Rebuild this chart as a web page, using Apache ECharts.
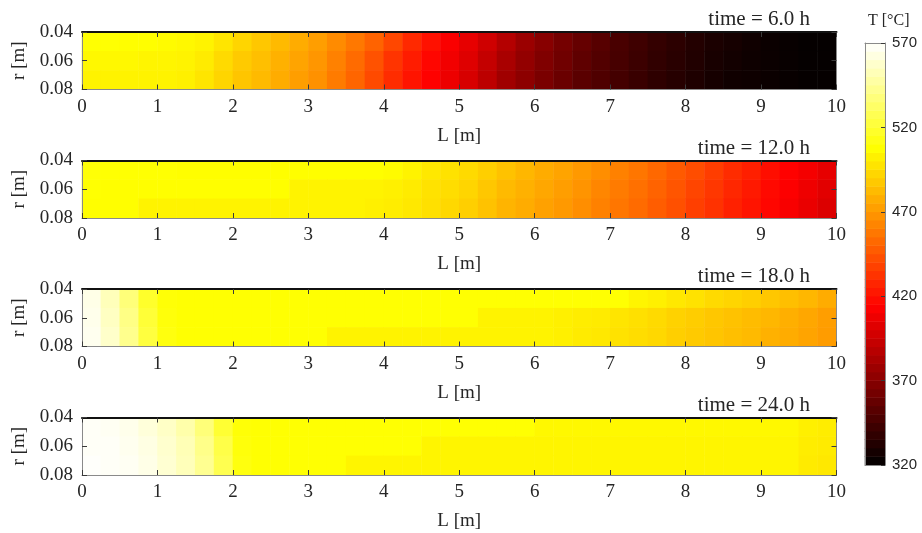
<!DOCTYPE html>
<html><head><meta charset="utf-8">
<script src="https://cdn.jsdelivr.net/npm/echarts@6/dist/echarts.min.js"></script>
<style>html,body{margin:0;padding:0;background:#fff}#c{width:922px;height:533px}</style>
</head><body><div id="c"></div>
<script>
// ---- data ----
const L_centers = [0.125,0.375,0.625,0.875,1.125,1.375,1.625,1.875,2.125,2.375,2.625,2.875,3.125,3.375,3.625,3.875,4.125,4.375,4.625,4.875,5.125,5.375,5.625,5.875,6.125,6.375,6.625,6.875,7.125,7.375,7.625,7.875,8.125,8.375,8.625,8.875,9.125,9.375,9.625,9.875];
const r_rows = ['0.040-0.053','0.053-0.067','0.067-0.080'];
const L_ticks = [0,1,2,3,4,5,6,7,8,9,10];
const r_ticks = ['0.04','0.06','0.08'];
const times = ['time = 6.0 h','time = 12.0 h','time = 18.0 h','time = 24.0 h'];

const T6_top = [508,508,507,507,506,505,503,498,492,487,482,477,472,465,458,450,440,429,420,412,405,396,386,377,370,363,357,352,347,343,339,336,333,330,328,326,324,323,322,322];
const T6_mid = [505,505,505,504,504,503,500,494,488,484,479,474,469,461,453,444,433,424,416,409,402,392,382,374,367,361,355,350,346,342,338,335,332,329,327,325,324,323,322,322];
const T6_bot = [503,503,503,503,503,502,498,492,486,482,477,472,467,459,451,441,430,421,414,407,399,389,379,372,365,359,353,349,345,341,337,334,331,328,326,325,324,323,322,322];

const T12_top = [509,508,508,508,508,507,507,507,507,507,507,507,507,507,507,507,506,503,499,497,494,490,485,481,477,474,470,466,461,457,452,447,442,436,430,425,419,414,410,405];
const T12_mid = [508,507,507,507,507,507,507,507,507,507,507,503,503,503,503,503,502,500,497,495,492,487,482,479,475,472,468,463,459,455,450,445,439,434,428,423,417,413,408,403];
const T12_bot = [507,507,507,503,503,503,503,503,503,503,503,503,503,503,503,502,501,499,496,493,490,485,480,477,473,470,466,461,457,453,448,443,437,432,426,421,416,411,406,401];

const T18_top = [564,553,537,518,509,508,508,508,508,508,508,508,508,508,508,508,508,508,508,508,508,508,508,508,508,508,508,508,508,504,502,499,497,494,492,490,487,484,481,477];
const T18_mid = [565,555,540,521,510,508,508,508,508,508,508,508,508,508,508,508,508,508,508,508,508,503,503,503,503,502,501,500,498,496,494,491,489,487,485,483,481,478,475,472];
const T18_bot = [566,557,542,523,511,508,508,508,508,508,508,508,508,503,503,503,503,503,503,503,503,503,503,503,503,502,500,499,497,495,493,490,488,486,484,482,479,477,474,471];

const T24_top = [568,567,565,561,556,549,537,520,509,508,508,508,508,508,508,508,508,508,508,508,508,508,508,508,505,505,505,505,505,505,505,505,505,505,505,505,505,505,502,501];
const T24_mid = [568,568,566,563,558,552,541,525,510,508,508,508,508,508,508,508,508,508,504,504,504,504,504,504,504,504,504,504,504,504,504,504,504,504,504,504,504,504,501,500];
const T24_bot = [569,568,567,564,559,553,543,527,511,508,508,508,508,508,504,504,504,504,504,504,504,504,504,504,504,504,504,504,504,504,504,504,504,504,504,504,504,504,500,499];

const cbLevels = [322.5,327.5,332.5,337.5,342.5,347.5,352.5,357.5,362.5,367.5,372.5,377.5,382.5,387.5,392.5,397.5,402.5,407.5,412.5,417.5,422.5,427.5,432.5,437.5,442.5,447.5,452.5,457.5,462.5,467.5,472.5,477.5,482.5,487.5,492.5,497.5,502.5,507.5,512.5,517.5,522.5,527.5,532.5,537.5,542.5,547.5,552.5,557.5,562.5,567.5];
const cbTickLabels = ['320','370','420','470','520','570'];
const T_min = 320, T_max = 570;

// ---- build ----
const hot = ['#000000','#550000','#aa0000','#ff0000','#ff5500','#ffaa00','#ffff00','#ffff80','#ffffff'];
const panels = [[T6_top,T6_mid,T6_bot],[T12_top,T12_mid,T12_bot],[T18_top,T18_mid,T18_bot],[T24_top,T24_mid,T24_bot]];
const tops = [32, 160.5, 289, 417.5];
const PL = 82, PW = 754.5, PH = 57.5;
const serif = '"Liberation Serif","DejaVu Serif",serif';
const sans = '"Liberation Sans",Arial,sans-serif';
const txt = '#262626', side = '#8a8a8a', tick = '#3a3a3a';

const grid = [], xAxis = [], yAxis = [], series = [], title = [];
panels.forEach((rows, i) => {
  grid.push({left: PL, top: tops[i], width: PW, height: PH});
  xAxis.push({type:'value', gridIndex:i, position:'bottom', min:L_ticks[0], max:L_ticks[L_ticks.length-1], interval:1, z:5,
    axisLine:{show:true, onZero:false, lineStyle:{color:side, width:1}},
    axisTick:{show:true, inside:true, length:5, lineStyle:{color:tick}},
    axisLabel:{fontFamily:serif, fontSize:19, color:txt, margin:8},
    splitLine:{show:false},
    name:'L [m]', nameLocation:'middle', nameGap:37, nameTextStyle:{fontFamily:serif, fontSize:19, color:txt}});
  xAxis.push({type:'value', gridIndex:i, position:'top', min:0, max:10, interval:1, z:5,
    axisLine:{show:true, onZero:false, lineStyle:{color:'#111', width:2}},
    axisTick:{show:true, inside:true, length:5, lineStyle:{color:tick}},
    axisLabel:{show:false}, splitLine:{show:false}});
  yAxis.push({type:'value', gridIndex:i, position:'left', min:0.04, max:0.08, interval:0.02, inverse:true, z:5,
    axisLine:{show:true, onZero:false, lineStyle:{color:side, width:1}},
    axisTick:{show:true, inside:true, length:5, lineStyle:{color:tick}},
    axisLabel:{fontFamily:serif, fontSize:19, color:txt, margin:9, formatter:(v)=>r_ticks[Math.round((v-0.04)/0.02)]},
    splitLine:{show:false},
    name:'r [m]', nameLocation:'middle', nameGap:51, nameRotate:90, nameTextStyle:{fontFamily:serif, fontSize:19, color:txt}});
  yAxis.push({type:'value', gridIndex:i, position:'right', min:0.04, max:0.08, interval:0.02, inverse:true, z:5,
    axisLine:{show:true, onZero:false, lineStyle:{color:side, width:1}},
    axisTick:{show:true, inside:true, length:5, lineStyle:{color:tick}},
    axisLabel:{show:false}, splitLine:{show:false}});
  const xc = xAxis.length;
  xAxis.push({type:'category', gridIndex:i, position:'bottom', data:L_centers, show:false, boundaryGap:true});
  const yc = yAxis.length;
  yAxis.push({type:'category', gridIndex:i, position:'left', data:r_rows, show:false, inverse:true});
  const data = [];
  rows.forEach((row, j) => row.forEach((v, k) => data.push([k, j, v])));
  series.push({type:'heatmap', xAxisIndex:xc, yAxisIndex:yc, data, progressive:0, itemStyle:{borderWidth:0}, emphasis:{disabled:true}});
  title.push({text:times[i], right:922-815, top:tops[i]-28, textStyle:{fontFamily:serif, fontSize:21, fontWeight:'normal', color:txt}});
});

// colorbar
const gi = 4;
grid.push({left:865, top:43, width:20, height:422});
xAxis.push({type:'value', gridIndex:gi, position:'bottom', min:0, max:1, z:5, axisLine:{show:true,onZero:false,lineStyle:{color:side}}, axisTick:{show:false}, axisLabel:{show:false}, splitLine:{show:false}});
xAxis.push({type:'value', gridIndex:gi, position:'top', min:0, max:1, z:5, axisLine:{show:true,onZero:false,lineStyle:{color:side}}, axisTick:{show:false}, axisLabel:{show:false}, splitLine:{show:false}});
yAxis.push({type:'value', gridIndex:gi, position:'right', min:0, max:cbTickLabels.length-1, interval:1, z:5,
  axisLine:{show:true,onZero:false,lineStyle:{color:side}},
  axisTick:{show:true, inside:true, length:4, lineStyle:{color:tick}},
  axisLabel:{fontFamily:sans, fontSize:15, color:txt, margin:7, formatter:(v)=>cbTickLabels[Math.round(v)]},
  splitLine:{show:false}});
yAxis.push({type:'value', gridIndex:gi, position:'left', min:0, max:1, z:5, axisLine:{show:true,onZero:false,lineStyle:{color:side}}, axisTick:{show:false}, axisLabel:{show:false}, splitLine:{show:false}});
const cbx = xAxis.length;
xAxis.push({type:'category', gridIndex:gi, data:['T'], show:false});
const cby = yAxis.length;
yAxis.push({type:'category', gridIndex:gi, data:cbLevels, show:false});
series.push({type:'heatmap', xAxisIndex:cbx, yAxisIndex:cby, data:cbLevels.map((v,k)=>[0,k,v]), progressive:0, emphasis:{disabled:true}});
title.push({text:'T [°C]', left:863, top:8, textStyle:{fontFamily:serif, fontSize:16, fontWeight:'normal', color:txt}});

const chart = echarts.init(document.getElementById('c'), null, {renderer:'canvas'});
chart.setOption({
  animation:false,
  backgroundColor:'#ffffff',
  title, grid, xAxis, yAxis, series,
  visualMap:{type:'continuous', show:false, min:T_min, max:T_max, dimension:2, seriesIndex:series.map((s,i)=>i), inRange:{color:hot}}
});
</script></body></html>
